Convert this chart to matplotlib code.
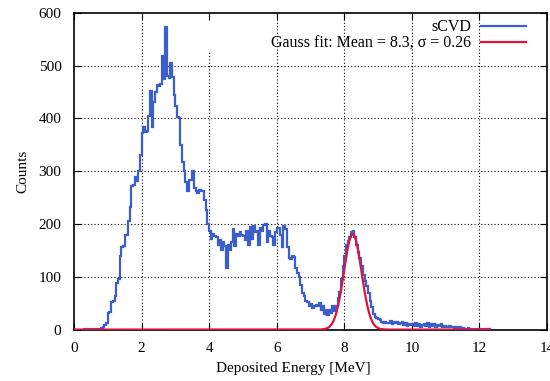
import numpy as np
import matplotlib
matplotlib.use('Agg')
import matplotlib.pyplot as plt

plt.rcParams['font.family'] = ['Liberation Serif', 'DejaVu Serif']

# histograma sCVD, bins de 0.05 MeV a partir de 0
bin_width = 0.05
counts = [
    0, 0, 0, 0, 0, 0, 1, 1, 2, 1, 2, 1, 2, 1, 1, 2, 3, 5, 8, 12,
    32, 33, 52, 55, 63, 88, 96, 140, 157, 158, 180, 180, 206, 232, 272, 274, 290, 282, 300, 330,
    373, 384, 375, 377, 404, 452, 384, 432, 450, 464, 462, 466, 518, 474, 574, 480, 476, 505, 478, 445,
    424, 402, 400, 350, 318, 300, 280, 263, 284, 283, 300, 268, 262, 258, 264, 263, 262, 246, 227, 200,
    186, 172, 182, 178, 175, 160, 170, 150, 165, 158, 117, 160, 150, 165, 190, 158, 182, 178, 185, 180,
    178, 170, 186, 160, 195, 172, 196, 185, 186, 160, 192, 186, 198, 200, 166, 186, 178, 175, 160, 185,
    193, 192, 180, 156, 196, 190, 157, 136, 134, 140, 138, 116, 108, 100, 84, 70, 64, 55, 52, 44,
    48, 40, 45, 46, 44, 50, 38, 45, 30, 38, 28, 38, 32, 44, 36, 45, 60, 72, 95, 120,
    140, 160, 168, 176, 184, 186, 175, 160, 147, 135, 120, 104, 92, 82, 70, 55, 42, 30, 24, 22,
    20, 18, 14, 12, 15, 12, 12, 16, 10, 14, 12, 15, 10, 12, 14, 8, 12, 6, 10, 8,
    10, 6, 12, 7, 10, 5, 9, 11, 6, 12, 5, 10, 7, 11, 5, 8, 6, 10, 5, 6,
    5, 4, 6, 4, 5, 3, 5, 3, 4, 2, 3, 2, 2, 3, 2, 2, 1, 2, 2, 1,
    1, 2, 1, 1, 1, 1,
]

# parametros do ajuste gaussiano
gauss_amp = 181
gauss_mean = 8.25
gauss_sigma = 0.26

xticks = [0, 2, 4, 6, 8, 10, 12, 14]
yticks = [0, 100, 200, 300, 400, 500, 600]

edges = np.arange(len(counts) + 1) * bin_width
x_fit = np.linspace(0, edges[-1], 1000)
y_fit = gauss_amp * np.exp(-0.5 * ((x_fit - gauss_mean) / gauss_sigma) ** 2)

fig = plt.figure(figsize=(5.5, 3.81), dpi=100)
ax = fig.add_axes([0.1345, 0.135, 0.86, 0.831])

# grade pontilhada (linha x=4 interrompida pela legenda, como no original)
for yt in yticks[1:-1]:
    ax.axhline(yt, color='black', lw=0.8, ls=(0, (1, 2)), zorder=1)
for xt in xticks[1:-1]:
    top = 0.88 if xt == 4 else 1.0
    ax.axvline(xt, ymax=top, color='black', lw=0.8, ls=(0, (1, 2)), zorder=1)

ax.stairs(counts, edges, color='#3a5fcd', lw=1.6, label='sCVD', zorder=3)
ax.plot(x_fit, y_fit, color='#dc143c', lw=1.6,
        label='Gauss fit: Mean = 8.3, σ = 0.26', zorder=4)

ax.set_xlim(0, 14)
ax.set_ylim(0, 600)
ax.set_xticks(xticks)
ax.set_yticks(yticks)
ax.tick_params(direction='in', top=True, right=True, length=5, width=0.8,
               labelsize=11)
ax.tick_params(axis='x', pad=9)
ax.tick_params(axis='y', pad=9)
for s in ax.spines.values():
    s.set_linewidth(1.2)

ax.set_xlabel('Deposited Energy [MeV]', fontsize=11, labelpad=5, x=0.463)
ax.set_ylabel('Counts', fontsize=11, labelpad=7)

ax.legend(loc='upper right', bbox_to_anchor=(0.956, 0.98), frameon=False,
          markerfirst=False, borderpad=0, borderaxespad=0, fontsize=11.5,
          handlelength=2.8, handletextpad=0.65, labelspacing=0.0)

plt.savefig('out.png', dpi=100)
